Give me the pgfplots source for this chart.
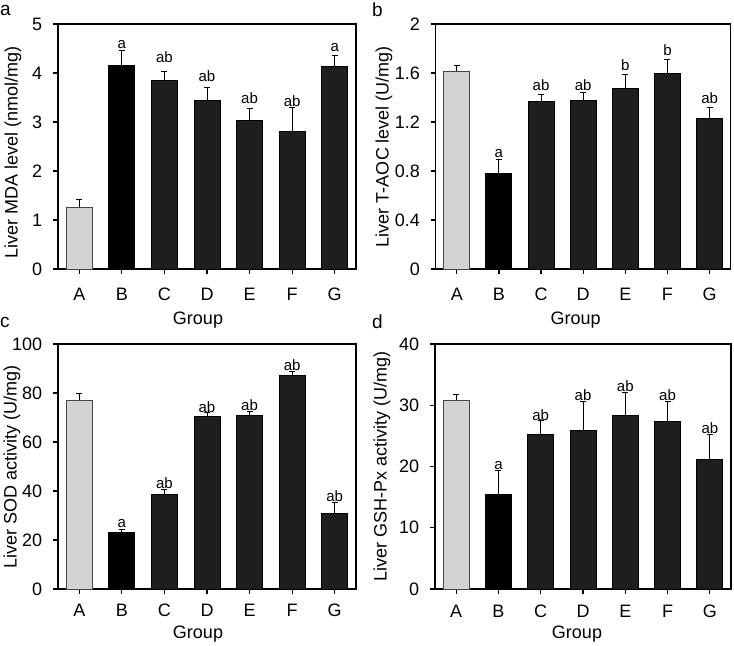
\documentclass[border=0pt]{standalone}
\usepackage{fontspec}
\setmainfont{Liberation Sans}
\usepackage{pgfplots}
\pgfplotsset{compat=1.18}

\definecolor{lightbar}{RGB}{211,211,211}
\definecolor{darkbar}{RGB}{30,30,30}
\definecolor{edgegray}{RGB}{70,70,70}

\pgfplotsset{
 panel/.style={
  scale only axis, height=245bp,
  xmin=-0.5, xmax=6.5, ymin=0,
  xtick={0,...,6}, xticklabels={A,B,C,D,E,F,G},
  xtick pos=left, ytick pos=left,
  tick align=outside, major tick length=5bp,
  axis line style={line width=1.2bp},
  every tick/.style={black, line width=1.2bp},
  tick label style={font=\fontsize{18bp}{20bp}\selectfont},
  label style={font=\fontsize{18bp}{20bp}\selectfont},
  /pgf/number format/assume math mode=true,
  yticklabel style={anchor=east, inner sep=0pt, xshift=-10.6bp},
  xticklabel style={anchor=north, inner sep=0pt},
  xlabel={Group},
  clip=false,
 },
 barplot/.style={ybar, bar width=26bp, bar shift=0pt, line width=0.9bp,
  error bars/y dir=plus, error bars/y explicit,
  error bars/error bar style={line width=0.9bp, black},
  error bars/error mark options={black, line width=0.9bp, mark size=3bp, rotate=90}},
 ann/.style={only marks, mark=none, nodes near coords, point meta=explicit symbolic,
  every node near coord/.style={anchor=base, inner sep=0pt, text=black, font=\fontsize{15bp}{17bp}\selectfont}},
}

\begin{document}
\begin{tikzpicture}
\useasboundingbox (0,0) rectangle (734bp,-646bp);

% ---------------- panel a
\begin{axis}[panel, width=298bp, at={(58bp,-269bp)}, anchor=south west,
  ymax=5, ytick={0,1,2,3,4,5},
  ylabel={Liver MDA level (nmol/mg)},
  ylabel style={at={([xshift=-45bp,yshift=-6bp]axis description cs:0,0.5)}, anchor=center, inner sep=0pt},
  xticklabel style={yshift=-14bp},
  xlabel style={at={([xshift=-9bp,yshift=-42.7bp]axis description cs:0.5,0)}, anchor=north, inner sep=0pt}]
\addplot[barplot, fill=lightbar, draw=edgegray] table[x=x,y=y,y error=e] {
x y e
0 1.26 0.15
};
\addplot[barplot, fill=black, draw=black] table[x=x,y=y,y error=e] {
x y e
1 4.15 0.32
};
\addplot[barplot, fill=darkbar, draw=black] table[x=x,y=y,y error=e] {
x y e
2 3.84 0.20
3 3.44 0.27
4 3.04 0.24
5 2.80 0.50
6 4.14 0.21
};
\addplot[ann] coordinates {(1,4.50) [a] (2,4.21) [ab] (3,3.82) [ab] (4,3.38) [ab] (5,3.31) [ab] (6,4.43) [a]};
\end{axis}

% ---------------- panel b
\begin{axis}[panel, width=295bp, at={(435.7bp,-269bp)}, anchor=south west,
  ymax=2, ytick={0,0.4,0.8,1.2,1.6,2},
  ylabel={Liver T-AOC level (U/mg)},
  ylabel style={at={([xshift=-51.7bp]axis description cs:0,0.5)}, anchor=center, inner sep=0pt},
  xticklabel style={yshift=-14bp},
  xlabel style={at={([xshift=-7.5bp,yshift=-42.7bp]axis description cs:0.5,0)}, anchor=north, inner sep=0pt}]
\addplot[barplot, fill=lightbar, draw=edgegray] table[x=x,y=y,y error=e] {
x y e
0 1.614 0.051
};
\addplot[barplot, fill=black, draw=black] table[x=x,y=y,y error=e] {
x y e
1 0.778 0.117
};
\addplot[barplot, fill=darkbar, draw=black] table[x=x,y=y,y error=e] {
x y e
2 1.366 0.057
3 1.374 0.071
4 1.472 0.114
5 1.595 0.114
6 1.227 0.093
};
\addplot[ann] coordinates {(1,0.912) [a] (2,1.456) [ab] (3,1.456) [ab] (4,1.619) [b] (5,1.741) [b] (6,1.347) [ab]};
\end{axis}

% ---------------- panel c
\begin{axis}[panel, width=298bp, at={(58bp,-589bp)}, anchor=south west,
  ymax=100, ytick={0,20,40,60,80,100},
  ylabel={Liver SOD activity (U/mg)},
  ylabel style={at={([xshift=-46bp]axis description cs:0,0.5)}, anchor=center, inner sep=0pt},
  xticklabel style={yshift=-10bp},
  xlabel style={at={([xshift=-9bp,yshift=-36.3bp]axis description cs:0.5,0)}, anchor=north, inner sep=0pt}]
\addplot[barplot, fill=lightbar, draw=edgegray] table[x=x,y=y,y error=e] {
x y e
0 77.1 2.9
};
\addplot[barplot, fill=black, draw=black] table[x=x,y=y,y error=e] {
x y e
1 22.9 1.6
};
\addplot[barplot, fill=darkbar, draw=black] table[x=x,y=y,y error=e] {
x y e
2 38.5 2.3
3 70.3 1.7
4 70.9 1.5
5 87.3 1.7
6 30.7 4.5
};
\addplot[ann] coordinates {(1,25.2) [a] (2,41.1) [ab] (3,72.1) [ab] (4,72.8) [ab] (5,89.1) [ab] (6,35.6) [ab]};
\end{axis}

% ---------------- panel d
\begin{axis}[panel, width=296bp, at={(435bp,-589bp)}, anchor=south west,
  ymax=40, ytick={0,10,20,30,40},
  ylabel={Liver GSH-Px activity (U/mg)},
  ylabel style={at={([xshift=-53bp]axis description cs:0,0.5)}, anchor=center, inner sep=0pt},
  xticklabel style={yshift=-11bp},
  xlabel style={at={([xshift=-6bp,yshift=-36.3bp]axis description cs:0.5,0)}, anchor=north, inner sep=0pt}]
\addplot[barplot, fill=lightbar, draw=edgegray] table[x=x,y=y,y error=e] {
x y e
0 30.8 1.0
};
\addplot[barplot, fill=black, draw=black] table[x=x,y=y,y error=e] {
x y e
1 15.5 3.9
};
\addplot[barplot, fill=darkbar, draw=black] table[x=x,y=y,y error=e] {
x y e
2 25.2 2.3
3 25.85 4.85
4 28.3 3.8
5 27.3 3.4
6 21.1 4.2
};
\addplot[ann] coordinates {(1,19.5) [a] (2,27.5) [ab] (3,30.7) [ab] (4,32.2) [ab] (5,30.7) [ab] (6,25.4) [ab]};
\end{axis}

% panel letters
\node[anchor=base west, inner sep=0pt, font=\fontsize{19bp}{21bp}\selectfont] at (0bp,-15bp) {a};
\node[anchor=base west, inner sep=0pt, font=\fontsize{19bp}{21bp}\selectfont] at (372bp,-16bp) {b};
\node[anchor=base west, inner sep=0pt, font=\fontsize{19bp}{21bp}\selectfont] at (0bp,-327bp) {c};
\node[anchor=base west, inner sep=0pt, font=\fontsize{19bp}{21bp}\selectfont] at (372bp,-328bp) {d};
\end{tikzpicture}
\end{document}
